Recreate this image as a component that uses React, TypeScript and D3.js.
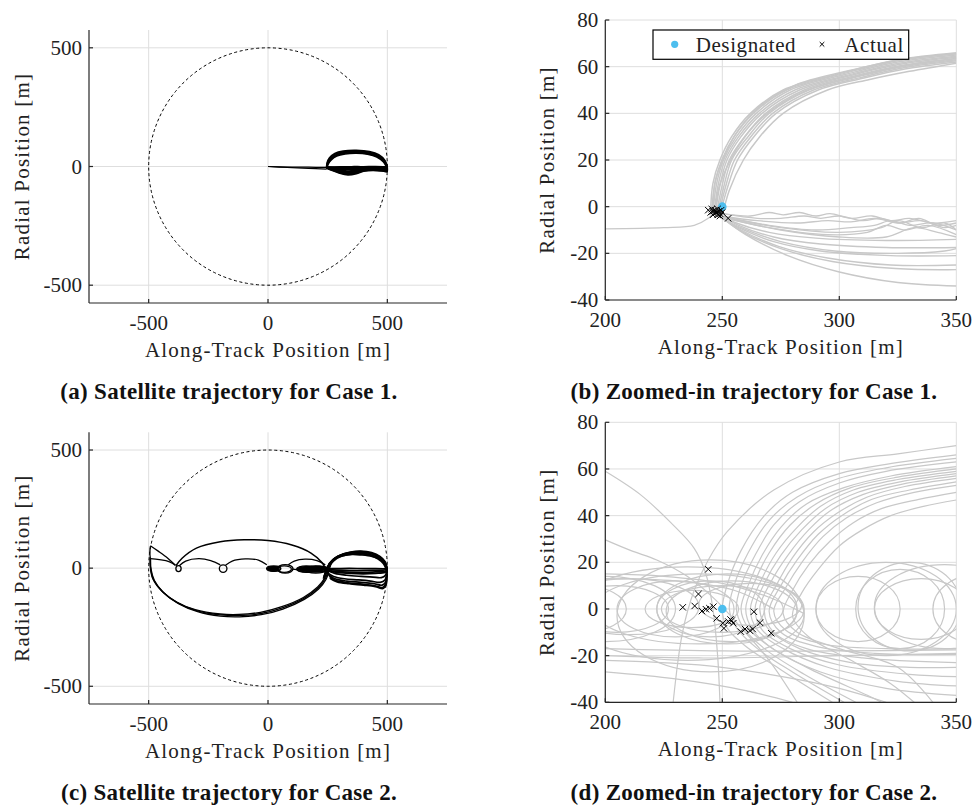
import React from "react";
import * as d3 from "d3";

type Pt = [number, number];
type Ell = [number, number, number, number]; // cx, cy, rx, ry

const SERIF = "Liberation Serif, DejaVu Serif, Times New Roman, serif";
const GRAY = "#c8c8c8";
const BLUE = "#4dbeee";
const GRID = "#dedede";
const AXIS = "#262626";

// ---- ticks & labels ----
const wideTicks = [-500, 0, 500];
const zoomXTicks = [200, 250, 300, 350];
const zoomYTicks = [-40, -20, 0, 20, 40, 60, 80];
const keepOutRadius = 500;
const designated: Pt = [250, 0];
const captions = [
  "(a) Satellite trajectory for Case 1.",
  "(b) Zoomed-in trajectory for Case 1.",
  "(c) Satellite trajectory for Case 2.",
  "(d) Zoomed-in trajectory for Case 2.",
];
const legendLabels = ["Designated", "Actual"];

// ---- Case 1, full view ----
const case1WideApproach: Pt[][] = [
  [[0, 0], [80, -2], [170, -3], [246, -4]],
  [[0, 0], [80, -4], [170, -8], [246, -11]],
];
const case1WideUpper: Pt[][] = [
  [[246, -4], [251, 12], [263, 30], [286, 46], [321, 56], [370, 59], [419, 54], [458, 42], [485, 21], [496, 2], [498, -8]],
  [[246, -4], [250, 13], [261, 32], [284, 49], [319, 59], [370, 62], [421, 57], [460, 45], [487, 23], [497, 3], [498, -8]],
  [[247, -5], [249, 15], [259, 34], [282, 52], [317, 62], [370, 65], [423, 60], [462, 47], [488, 25], [497, 4], [499, -9]],
  [[245, -4], [248, 17], [257, 36], [280, 55], [315, 65], [370, 68], [425, 63], [464, 50], [489, 27], [498, 5], [499, -9]],
  [[247, -5], [252, 10], [265, 28], [288, 44], [323, 53], [370, 56], [417, 52], [456, 40], [484, 19], [495, 1], [498, -8]],
];
const case1WideLower: Pt[][] = [
  [[246, -5], [270, -16], [300, -27], [335, -34], [370, -29], [400, -19], [440, -15], [475, -18], [498, -22]],
  [[246, -5], [272, -15], [302, -25], [335, -31], [368, -26], [400, -17], [440, -13], [478, -16], [498, -20]],
  [[246, -5], [275, -13], [305, -21], [335, -26], [365, -22], [400, -14], [445, -11], [480, -13], [498, -16]],
  [[246, -5], [280, -11], [310, -17], [340, -21], [370, -17], [405, -11], [450, -9], [485, -11], [498, -13]],
  [[246, -5], [285, -8], [320, -12], [350, -14], [380, -11], [420, -7], [460, -6], [498, -8]],
  [[246, -4], [290, -5], [330, -7], [370, -6], [410, -4], [460, -3], [498, -4]],
  [[246, -4], [300, -3], [350, -2], [400, -2], [450, -1], [498, -2]],
  [[498, 0], [499, -12], [498, -24]],
];

// ---- Case 1, zoomed view ----
const case1ZoomApproach: Pt[][] = [
  [[200, -9.5], [225, -9], [238, -8], [244, -5], [246, -3]],
];
const case1ZoomUpper: Pt[][] = [
  [[245, -2], [246, 10], [249, 20], [254, 30], [262, 40], [276, 50], [300, 57], [325, 63], [350, 66]],
  [[245.5, -2], [246.8, 9.8], [249.8, 20], [255, 30], [263.3, 40], [277.5, 50], [301, 56.8], [325, 62.5], [350, 65.5]],
  [[246, -2.5], [247.5, 9.5], [250.5, 20], [256, 30], [264.5, 40], [279, 50], [302, 56.5], [325, 62], [350, 65]],
  [[246.5, -2.7], [248.2, 9.2], [251.2, 20], [257, 30], [265.8, 40], [281, 50], [303, 56.2], [325.5, 61.5], [350, 64.5]],
  [[247, -3], [249, 9], [252, 20], [258, 30], [267, 40], [283, 50], [304, 56], [326, 61], [350, 64]],
  [[247.5, -3], [249.8, 8.5], [253, 20], [259.5, 30], [268.5, 40], [285, 50], [305.5, 55.8], [326.5, 60.5], [350, 63.5]],
  [[248, -3], [250.5, 8], [254, 20], [261, 30], [270, 40], [287, 50], [307, 55.5], [327, 60], [350, 63]],
  [[248.5, -3.2], [251.2, 7.8], [255.2, 20], [262.2, 30], [271.5, 40], [289, 50], [308.5, 55.2], [327.5, 59.5], [350, 62.5]],
  [[249, -3.5], [252, 7.5], [256.5, 20], [263.5, 30], [273, 40], [291, 50], [310, 55], [328, 59], [350, 62]],
  [[250, -4], [253, 7], [259, 20], [266, 30], [276, 40], [295, 50], [313, 54.5], [330, 58], [350, 61.5]],
  [[246, -2], [247, 11], [251, 22], [257, 33], [266, 43], [281, 52], [303, 58], [326, 63], [350, 65.5]],
  [[247, -3], [248.5, 8], [253, 19], [259, 29], [268, 39], [284, 49], [306, 55.5], [328, 60.5], [350, 63.5]],
];
const case1ZoomLower: Pt[][] = [
  [[248, -3], [256, -7], [270, -11], [290, -13.5], [320, -14.5], [350, -14]],
  [[248, -3], [257, -8], [272, -13], [292, -16], [320, -17.5], [350, -17.5]],
  [[248, -4], [257, -9], [272, -15], [292, -19], [322, -21], [350, -21]],
  [[249, -4], [258, -10], [274, -17], [295, -22], [322, -25], [350, -25]],
  [[249, -4], [258, -10.5], [275, -18], [297, -23.5], [324, -26.5], [350, -27]],
  [[249, -4], [260, -12], [278, -21], [300, -28], [325, -32.5], [350, -34]],
  [[248, -4], [258, -9], [275, -15], [298, -19], [325, -20], [345, -19], [350, -18]],
];
const case1ZoomWavy: Pt[][] = [
  [[250, -3], [262, -4], [270, -2.5], [276, -3.5], [283, -2.5], [290, -4], [296, -3], [305, -5], [314, -4], [322, -6], [330, -5], [340, -7], [350, -6]],
  [[250, -3], [265, -5], [275, -5], [285, -4], [292, -5], [300, -4], [310, -6], [318, -5], [326, -7], [334, -5], [342, -8], [350, -7]],
  [[249, -4], [265, -6], [282, -7], [295, -6], [305, -6.5], [315, -5], [325, -7], [335, -6], [345, -9], [350, -8]],
  [[249, -4], [270, -8], [290, -10], [305, -9], [315, -8], [322, -6], [330, -8], [340, -7], [350, -10]],
  [[248, -4], [270, -9], [295, -12], [312, -11], [320, -8], [328, -10], [338, -8], [350, -12]],
  [[248, -4], [275, -10], [300, -13], [320, -13], [332, -9], [342, -11], [350, -13]],
  [[249, -4], [275, -9], [300, -11], [318, -9], [325, -6], [335, -9], [345, -7], [350, -10]],
];
const case1Actual: Pt[] = [
  [244, -1.5], [245, -2.5], [245.5, -1], [246, -2], [246.5, -3], [247, -1.5], [247.5, -2.5], [248, -3.5],
  [248.5, -2], [249, -3], [249.5, -1.5], [250, -2.5], [248, -1], [246, -3.5], [249, -4], [252.5, -5],
];

// ---- Case 2, full view ----
const case2WideLeft: Pt[][] = [
  [[-493, 95], [-460, 72], [-420, 42], [-388, 12]],
  [[-493, 40], [-455, 36], [-415, 28], [-388, 12]],
  [[-493, 92], [-495, 65], [-493, 40]],
];
const case2WideTop: Pt[][] = [
  [[-386, 10], [-360, 42], [-300, 85], [-200, 112], [-100, 120], [0, 117], [100, 98], [180, 64], [228, 22], [248, -20], [270, -45]],
];
const case2WideBottom: Pt[][] = [
  [[-493, 42], [-492, 0], [-480, -48], [-442, -100], [-380, -146], [-300, -180], [-200, -198], [-120, -201], [-30, -192], [60, -168], [150, -128], [210, -84], [240, -45], [252, -10], [260, 20]],
  [[-492, 38], [-490, -5], [-476, -52], [-437, -104], [-375, -150], [-295, -184], [-200, -203], [-118, -206], [-28, -197], [62, -173], [152, -132], [212, -88], [243, -48], [255, -12], [264, 18]],
  [[-494, 45], [-493, 5], [-483, -44], [-446, -96], [-385, -142], [-305, -176], [-200, -194], [-122, -196], [-32, -187], [58, -163], [148, -124], [208, -80], [237, -42], [249, -8], [257, 22]],
];
const case2WideHumps: Pt[][] = [
  [[-372, 10], [-345, 30], [-290, 40], [-240, 32], [-200, 14]],
  [[-178, 12], [-150, 30], [-95, 39], [-40, 34], [-5, 14]],
  [[85, 14], [110, 30], [155, 38], [205, 32], [240, 14]],
  [[100, -4], [120, -6], [140, -5]],
];
const case2WideRight: Pt[][] = [
  [[236, -35], [246, -5], [262, 25], [292, 50], [338, 64], [385, 68], [430, 62], [465, 46], [488, 24], [497, 0], [498, -20]],
  [[238, -30], [249, -2], [266, 27], [297, 52], [342, 66], [387, 70], [432, 64], [467, 48], [489, 26], [498, 2], [499, -20]],
  [[240, -25], [252, 2], [270, 30], [301, 54], [346, 68], [389, 72], [434, 66], [469, 50], [490, 28], [498, 3], [499, -20]],
  [[234, -40], [244, -8], [259, 22], [288, 47], [334, 61], [383, 64], [428, 58], [463, 43], [486, 22], [496, -2], [498, -20]],
  [[232, -45], [243, -12], [257, 18], [285, 43], [331, 56], [380, 60], [425, 55], [460, 40], [484, 19], [495, -4], [498, -20]],
  [[242, -20], [255, 5], [274, 30], [305, 50], [350, 58], [391, 56], [436, 50], [470, 38], [491, 20], [498, 0], [499, -20]],
  [[262, -45], [290, -58], [340, -66], [400, -72], [450, -78], [482, -86], [494, -72], [498, -30], [498, -5]],
  [[258, -40], [285, -53], [335, -62], [395, -68], [445, -74], [480, -82], [493, -68], [498, -30]],
  [[255, -30], [280, -45], [330, -55], [390, -60], [440, -65], [478, -72], [492, -60], [498, -25]],
  [[250, -20], [275, -35], [320, -45], [380, -50], [430, -55], [470, -60], [490, -50], [498, -20]],
  [[250, -10], [280, -22], [330, -30], [390, -35], [440, -38], [475, -40], [492, -30], [498, -10]],
  [[245, -5], [290, -8], [340, -10], [400, -10], [450, -9], [490, -8], [498, -5]],
  [[245, -8], [290, -14], [340, -17], [400, -18], [450, -16], [490, -14], [498, -10]],
  [[245, -12], [290, -18], [340, -22], [400, -24], [450, -22], [490, -18], [498, -12]],
  [[245, -3], [290, -2], [340, -1], [400, -2], [450, -2], [498, -3]],
];
const case2WideLoops: Ell[] = [
  [-375, -2, 11, 13], [-188, -2, 16, 16], [24, -2, 30, 12], [26, -3, 26, 9],
  [72, -3, 33, 18], [68, -4, 30, 14], [160, -4, 40, 14], [200, -6, 45, 15], [215, -4, 35, 12],
];
const case2WideBlobs: Ell[] = [
  [22, -3, 24, 9], [182, -5, 60, 12],
];

// ---- Case 2, zoomed view ----
const case2ZoomArcs: Pt[][] = [
  [[350, 70], [325, 66.5], [300, 63], [272, 51], [252, 33], [244, 21], [238, 8], [233, -10], [229, -40]],
  [[350, 66], [320, 62], [300, 58], [280, 50], [268, 40], [258, 25], [252, 10], [250, 0], [252, -8], [260, -16], [275, -26], [297, -40]],
  [[350, 64.5], [320, 60.5], [300, 56], [282, 48], [270, 38], [261, 24], [255, 10], [253, 0], [256, -8], [265, -17], [280, -27], [302, -40]],
  [[350, 63], [320, 59], [300, 54], [283, 46], [272, 36], [264, 23], [258, 10], [256, 0], [259, -8], [268, -17], [285, -28], [307, -40]],
  [[350, 61], [322, 57], [302, 52], [286, 45], [275, 35], [267, 23], [261, 10], [258, 0], [261, -8], [270, -16], [288, -26], [312, -37], [318, -40]],
  [[350, 60], [325, 56.5], [305, 52], [290, 45], [279, 36], [270, 24], [264, 12], [260, 0], [263, -9], [273, -18], [292, -27], [320, -34], [350, -37]],
  [[350, 59], [325, 55.5], [306, 51], [292, 44], [282, 35], [273, 24], [266, 11], [262, 0], [265, -9], [276, -17], [295, -25], [325, -31], [350, -33]],
  [[350, 58], [326, 54.5], [308, 50], [294, 43], [284, 34], [275, 23], [268, 11], [264, 0], [267, -9], [279, -17], [300, -24], [330, -28], [350, -29]],
  [[350, 57], [327, 53.5], [310, 49], [296, 42], [287, 34], [278, 23], [271, 12], [266, 0], [270, -9], [283, -17], [305, -23], [330, -25], [350, -25]],
  [[350, 56], [328, 52.5], [312, 48], [299, 41], [289, 33], [280, 22], [273, 10], [268, -1], [272, -10], [286, -17], [310, -21], [350, -23]],
  [[350, 54.5], [330, 51], [314, 47], [301, 40], [291, 32], [282, 21], [275, 10], [270, -1], [275, -10], [290, -16], [315, -19], [350, -19.5]],
  [[350, 53], [332, 50], [316, 45.5], [303, 39], [293, 31], [284, 20], [277, 9], [272, -1], [277, -9], [293, -15], [320, -17], [350, -17]],
  [[350, 50], [334, 47], [318, 43], [306, 37], [296, 29], [287, 19], [280, 8], [276, -2], [282, -10], [300, -17], [325, -25], [340, -40]],
  [[350, 46.7], [336, 44], [322, 40], [310, 34], [300, 27], [291, 17], [284, 7], [280, -3], [287, -12], [305, -22], [322, -32], [332, -40]],
];
const case2ZoomOther: Pt[][] = [
  [[200, 59], [215, 49], [228, 37], [238, 26], [243, 15], [246, 0], [248, -20], [249, -40]],
  [[200, 29.6], [211, 25], [222, 21], [235, 14], [247, 4], [258, -8], [270, -22], [282, -40]],
  [[200, -17], [250, -18], [300, -18], [350, -17.5]],
  [[200, -20], [240, -21], [300, -20], [350, -19]],
  [[200, -22], [240, -24], [270, -28], [300, -34], [320, -40]],
  [[200, -27], [230, -30], [260, -35], [280, -40]],
  [[200, 15], [225, 14], [250, 11], [270, 5], [285, -2]],
  [[200, 13], [230, 12], [255, 8], [272, 0]],
];
const case2ZoomLoops: Ell[] = [
  [190, 0, 19, 10], [230, 0, 25, 12], [205, 0, 22, 10], [200, 0, 30, 14], [210, 1, 30, 12],
  [237, 0, 20, 8], [245, 0, 23, 12], [252, 0, 30, 15], [254, -1, 28, 13], [250, 0, 26, 10],
  [240, 0, 45, 15], [235, -2, 50, 20], [245, -3, 40, 24], [262, 2, 22, 9],
  [308, 0, 18, 14], [320, 0, 30, 20], [326, 0, 19, 17], [330, 1, 22, 19], [335, 0, 20, 13],
  [345, 1, 30, 18], [360, 0, 20, 15],
];
const case2Actual: Pt[] = [
  [244, 17], [239.8, 6.4], [233.1, 0.7], [238.2, 1.3], [241.3, -0.9], [243, -0.1], [244.5, 0.3], [246.2, 1],
  [263.5, -1.2], [247.6, -4], [250.2, -6.1], [250.7, -8.3], [252.6, -5.4], [254, -5], [254.7, -6.1],
  [253.5, -4.5], [257.9, -9.7], [259.7, -8.6], [261.8, -9.3], [263, -8.6], [266.1, -5.9], [270.9, -10.4],
];

type CurveSet = { data: Pt[][]; color: string; width: number };
type EllSet = { data: Ell[]; color: string; width: number; fill?: string };

type PanelProps = {
  id: string;
  box: { l: number; r: number; t: number; b: number };
  xDomain: [number, number];
  yDomain: [number, number];
  xTicks: number[];
  yTicks: number[];
  curves: CurveSet[];
  ellipses: EllSet[];
  keepOut?: boolean;
  actual?: Pt[];
  legend?: boolean;
  caption: string;
  captionX: number;
  captionY: number;
  yLabelX: number;
};

const txt = (size: number, extra: React.CSSProperties = {}): React.CSSProperties => ({
  fontFamily: SERIF,
  fontSize: size,
  ...extra,
});

function Cross({ x, y, s, w = 1 }: { x: number; y: number; s: number; w?: number }) {
  return (
    <path
      d={`M${x - s},${y - s}L${x + s},${y + s}M${x - s},${y + s}L${x + s},${y - s}`}
      stroke="#000"
      strokeWidth={w}
      fill="none"
    />
  );
}

function Panel(p: PanelProps) {
  const { box } = p;
  const x = d3.scaleLinear().domain(p.xDomain).range([box.l, box.r]);
  const y = d3.scaleLinear().domain(p.yDomain).range([box.b, box.t]);
  const line = d3
    .line<Pt>()
    .x((d) => x(d[0]))
    .y((d) => y(d[1]))
    .curve(d3.curveCatmullRom.alpha(0.5));
  const midY = (box.t + box.b) / 2;
  const midX = (box.l + box.r) / 2;

  return (
    <g>
      <defs>
        <clipPath id={`clip-${p.id}`}>
          <rect x={box.l} y={box.t} width={box.r - box.l} height={box.b - box.t} />
        </clipPath>
      </defs>
      {/* grid */}
      {p.xTicks.map((t) => (
        <line key={"gx" + t} x1={x(t)} x2={x(t)} y1={box.t} y2={box.b} stroke={GRID} strokeWidth={1} />
      ))}
      {p.yTicks.map((t) => (
        <line key={"gy" + t} x1={box.l} x2={box.r} y1={y(t)} y2={y(t)} stroke={GRID} strokeWidth={1} />
      ))}

      <g clipPath={`url(#clip-${p.id})`}>
        {p.ellipses.map((set, si) =>
          set.data.map((e, i) => (
            <ellipse
              key={`e${si}-${i}`}
              cx={x(e[0])}
              cy={y(e[1])}
              rx={x(e[0] + e[2]) - x(e[0])}
              ry={y(e[1]) - y(e[1] + e[3])}
              fill={set.fill ?? "none"}
              stroke={set.color}
              strokeWidth={set.width}
            />
          ))
        )}
        {p.curves.map((set, si) =>
          set.data.map((c, i) => (
            <path key={`c${si}-${i}`} d={line(c) ?? ""} fill="none" stroke={set.color} strokeWidth={set.width} />
          ))
        )}
      </g>

      {p.keepOut && (
        <ellipse
          cx={x(0)}
          cy={y(0)}
          rx={x(keepOutRadius) - x(0)}
          ry={y(0) - y(keepOutRadius)}
          fill="none"
          stroke="#000"
          strokeWidth={1}
          strokeDasharray="3,2.6"
        />
      )}

      {p.actual && (
        <g>
          <circle cx={x(designated[0])} cy={y(designated[1])} r={4.3} fill={BLUE} />
          {p.actual.map((d, i) => (
            <Cross key={"m" + i} x={x(d[0])} y={y(d[1])} s={3.2} />
          ))}
        </g>
      )}

      {/* axes */}
      <line x1={box.l} x2={box.l} y1={box.t} y2={box.b} stroke={AXIS} strokeWidth={1.2} />
      <line x1={box.l} x2={box.r} y1={box.b} y2={box.b} stroke={AXIS} strokeWidth={1.2} />
      {p.xTicks.map((t) => (
        <g key={"tx" + t}>
          <line x1={x(t)} x2={x(t)} y1={box.b} y2={box.b - 4} stroke={AXIS} strokeWidth={1.2} />
          <text x={x(t)} y={box.b + 27} textAnchor="middle" style={txt(21)} fill="#222">
            {t}
          </text>
        </g>
      ))}
      {p.yTicks.map((t) => (
        <g key={"ty" + t}>
          <line x1={box.l} x2={box.l + 4} y1={y(t)} y2={y(t)} stroke={AXIS} strokeWidth={1.2} />
          <text x={box.l - 7} y={y(t) + 7} textAnchor="end" style={txt(21)} fill="#222">
            {t}
          </text>
        </g>
      ))}
      <text x={midX} y={box.b + 54} textAnchor="middle" style={txt(21, { letterSpacing: 1.2 })} fill="#222">
        Along-Track Position [m]
      </text>
      <text
        transform={`translate(${p.yLabelX},${midY}) rotate(-90)`}
        textAnchor="middle"
        style={txt(21, { letterSpacing: 1.2 })}
        fill="#222"
      >
        Radial Position [m]
      </text>

      {p.legend && (
        <g>
          <rect x={653} y={30} width={255.7} height={29.3} fill="#fff" stroke="#000" strokeWidth={1.2} />
          <circle cx={674.7} cy={44.3} r={3.6} fill={BLUE} />
          <text x={695.7} y={51.5} style={txt(21, { letterSpacing: 0.6 })} fill="#222">
            {legendLabels[0]}
          </text>
          <Cross x={822} y={44.3} s={2.3} />
          <text x={844.3} y={51.5} style={txt(21, { letterSpacing: 0.6 })} fill="#222">
            {legendLabels[1]}
          </text>
        </g>
      )}

      <text
        x={p.captionX}
        y={p.captionY}
        textAnchor="middle"
        style={txt(23, { fontWeight: "bold", letterSpacing: 0.3 })}
        fill="#111"
      >
        {p.caption}
      </text>
    </g>
  );
}

export default function App() {
  const black = (data: Pt[][], width = 1.3): CurveSet => ({ data, color: "#000", width });
  const gray = (data: Pt[][], width = 1.2): CurveSet => ({ data, color: GRAY, width });

  return (
    <svg
      width={975}
      height={805}
      viewBox="0 0 975 805"
      style={{ position: "absolute", left: 0, top: 0, background: "#fff" }}
    >
      <rect width={975} height={805} fill="#fff" />
      <Panel
        id="a"
        box={{ l: 89, r: 447, t: 30, b: 303 }}
        xDomain={[-750, 750]}
        yDomain={[-575, 575]}
        xTicks={wideTicks}
        yTicks={wideTicks}
        curves={[black(case1WideApproach, 1.2), black(case1WideUpper, 1.6), black(case1WideLower, 2.2)]}
        ellipses={[]}
        keepOut
        caption={captions[0]}
        captionX={229}
        captionY={399}
        yLabelX={29}
      />
      <Panel
        id="b"
        box={{ l: 605.3, r: 956.3, t: 20, b: 300 }}
        xDomain={[200, 350]}
        yDomain={[-40, 80]}
        xTicks={zoomXTicks}
        yTicks={zoomYTicks}
        curves={[
          gray(case1ZoomApproach),
          gray(case1ZoomUpper, 1.5),
          gray(case1ZoomLower, 1.4),
          gray(case1ZoomWavy, 1.3),
        ]}
        ellipses={[]}
        actual={case1Actual}
        legend
        caption={captions[1]}
        captionX={754}
        captionY={399}
        yLabelX={554}
      />
      <Panel
        id="c"
        box={{ l: 89, r: 447, t: 432.3, b: 704 }}
        xDomain={[-750, 750]}
        yDomain={[-575, 575]}
        xTicks={wideTicks}
        yTicks={wideTicks}
        curves={[
          black(case2WideLeft),
          black(case2WideTop, 1.5),
          black(case2WideBottom, 1.3),
          black(case2WideHumps, 1.3),
          black(case2WideRight, 1.7),
        ]}
        ellipses={[
          { data: case2WideBlobs, color: "#000", width: 1.3, fill: "#000" },
          { data: case2WideLoops, color: "#000", width: 1.3 },
        ]}
        keepOut
        caption={captions[2]}
        captionX={229}
        captionY={800}
        yLabelX={29}
      />
      <Panel
        id="d"
        box={{ l: 605.3, r: 956.3, t: 422.3, b: 702.3 }}
        xDomain={[200, 350]}
        yDomain={[-40, 80]}
        xTicks={zoomXTicks}
        yTicks={zoomYTicks}
        curves={[gray(case2ZoomOther), gray(case2ZoomArcs)]}
        ellipses={[{ data: case2ZoomLoops, color: GRAY, width: 1.2 }]}
        actual={case2Actual}
        caption={captions[3]}
        captionX={754}
        captionY={800}
        yLabelX={554}
      />
    </svg>
  );
}
